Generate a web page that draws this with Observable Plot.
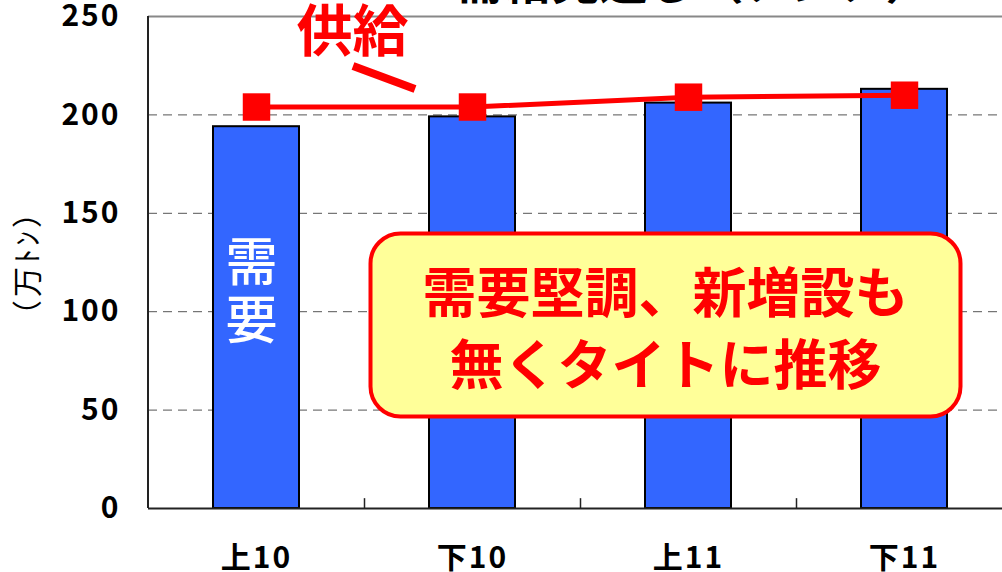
<!DOCTYPE html>
<html>
<head>
<meta charset="utf-8">
<script src="https://cdn.jsdelivr.net/npm/d3@7"></script>
<script src="https://cdn.jsdelivr.net/npm/@observablehq/plot@0.6"></script>
<style>
  html, body { margin: 0; padding: 0; background: #fff; overflow: hidden; }
  #chart svg { display: block; overflow: visible; }
  #chart g[aria-label="y-axis tick label"] text,
  #chart g[aria-label="x-axis tick label"] text { letter-spacing: 2px; }
</style>
</head>
<body>
<div id="chart"></div>
<script>
// Half-year periods and tonnage (万トン)
const categories = ["上10", "下10", "上11", "下11"];
const demand = [194, 199, 206, 213];
const supply = [204, 204, 209, 210];
const yTicks = [0, 50, 100, 150, 200, 250];
const gridValues = [50, 100, 150, 200];
const boundaryCats = ["上10", "下10", "上11"];

const titleText = "需給見通し（アジア）";
const yLabel = "（万ﾄﾝ）";
const supplyLabel = "供給";
const demandLabel = "需\n要";
const calloutLines = ["需要堅調、新増設も", "無くタイトに推移"];

const rows = categories.map((c, i) => ({cat: c, demand: demand[i], supply: supply[i]}));

const font = "'Noto Sans CJK JP', 'Noto Sans', sans-serif";
const W = 1002, H = 572;
const mL = 148, mT = 16, mB = 64;
// the last band runs past the right edge of the page
const xRange = [148, 1012];
const step = (xRange[1] - xRange[0]) / categories.length;

const plot = Plot.plot({
  width: W,
  height: H,
  marginLeft: mL,
  marginRight: 0,
  marginTop: mT,
  marginBottom: mB,
  style: {fontFamily: font, background: "#fff", color: "#000"},
  x: {domain: categories, range: xRange, paddingInner: 0.6, paddingOuter: 0.3, align: 0.5, label: null},
  y: {domain: [0, 250], label: null},
  marks: [
    // headline, mostly above the top edge
    Plot.text([titleText], {frameAnchor: "top-left", dx: 307, dy: -33, textAnchor: "start",
      lineAnchor: "middle", fontSize: 48, fontWeight: "bold", fill: "#000"}),
    Plot.ruleY(gridValues, {stroke: "#555", strokeWidth: 1, strokeDasharray: "9,6"}),
    Plot.ruleY([250], {stroke: "#888", strokeWidth: 2}),
    Plot.barY(rows, {x: "cat", y: "demand", fill: "#3366ff", stroke: "#000", strokeWidth: 2}),
    Plot.ruleY([0], {stroke: "#222", strokeWidth: 2}),
    Plot.ruleX(boundaryCats, {x: d => d, y1: 0, y2: 5, dx: step / 2, stroke: "#222", strokeWidth: 1.5}),
    Plot.axisY({ticks: yTicks, tickSize: 0, tickPadding: 28, fontSize: 30, fontWeight: "bold"}),
    Plot.axisX({tickSize: 0, tickPadding: 38, fontSize: 30, fontWeight: "bold"}),
    // unit label, rotated
    Plot.text([yLabel], {frameAnchor: "left", dx: -120, rotate: -90, textAnchor: "middle",
      lineAnchor: "middle", fontSize: 30, fill: "#000"}),
    // callout box
    Plot.frame({fill: "#ffff99", stroke: "#ff0000", strokeWidth: 4, rx: 30, ry: 30,
      insetLeft: 222, insetRight: 42, insetTop: 217, insetBottom: 92}),
    Plot.text([calloutLines[0]], {frameAnchor: "top-left", dx: 517, dy: 279, textAnchor: "middle",
      lineAnchor: "middle", fontSize: 54, fontWeight: "bold", fill: "#ff0000"}),
    Plot.text([calloutLines[1]], {frameAnchor: "top-left", dx: 517, dy: 351, textAnchor: "middle",
      lineAnchor: "middle", fontSize: 54, fontWeight: "bold", fill: "#ff0000"}),
    // demand label stacked inside the first bar
    Plot.text([demandLabel], {x: [categories[0]], frameAnchor: "middle", dy: 29, dx: -5,
      lineHeight: 1.12, fontSize: 52, fontWeight: 500, fill: "#fff"}),
    // supply line with square markers
    Plot.lineY(rows, {x: "cat", y: "supply", stroke: "#ff0000", strokeWidth: 5}),
    Plot.dot(rows, {x: "cat", y: "supply", symbol: "square", r: 15.5, fill: "#ff0000", stroke: "none"}),
    Plot.text([supplyLabel], {frameAnchor: "top-left", dx: 204, dy: 17, textAnchor: "middle",
      lineAnchor: "middle", fontSize: 56, fontWeight: "bold", fill: "#ff0000"})
  ]
});

document.getElementById("chart").appendChild(plot);

const svg = d3.select(plot);
const ys = plot.scale("y");

// a little air between the characters of the unit label
svg.selectAll("text")
  .filter(function () { return this.textContent === yLabel; })
  .style("letter-spacing", "3px");

// leader stroke under 供給
svg.append("line")
  .attr("x1", 353).attr("y1", 66)
  .attr("x2", 415).attr("y2", 89)
  .attr("stroke", "#ff0000")
  .attr("stroke-width", 8);

// left axis line
svg.append("line")
  .attr("x1", mL).attr("x2", mL)
  .attr("y1", ys.apply(250)).attr("y2", ys.apply(0))
  .attr("stroke", "#222")
  .attr("stroke-width", 2);
</script>
</body>
</html>
